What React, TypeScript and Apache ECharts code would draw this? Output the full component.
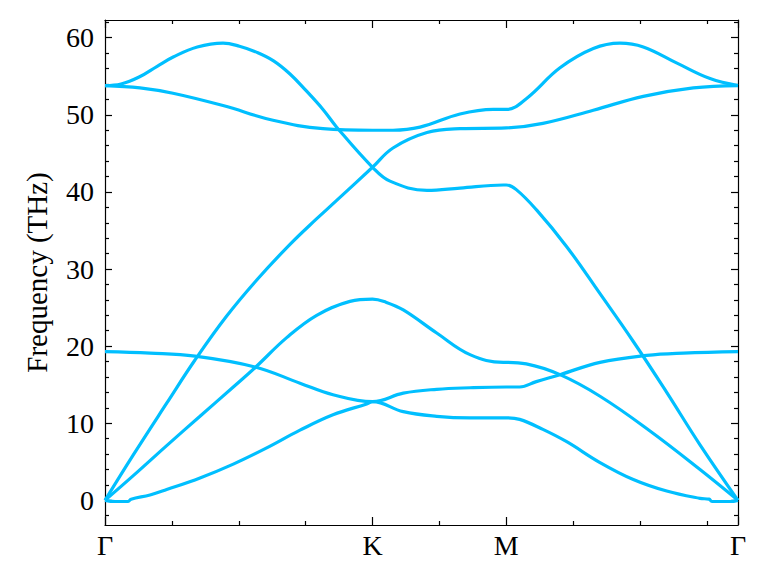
import React, { useEffect, useRef } from 'react';
import * as echarts from 'echarts';

// path distance along Γ-K-M-Γ: Γ=0, K=4/3, M=2, Γ=2+2/√3
const kPathPos = [0, 1.3333, 2, 3.1547];
const kPathLabels = ['Γ', 'K', 'M', 'Γ'];
const xMinorTicks = [0.3333, 0.6667, 1.0, 1.6667, 2.3333, 2.6667, 3.0];

const yMajorTicks = [0, 10, 20, 30, 40, 50, 60];
const yMinorTicks = [-2, 2, 4, 6, 8, 12, 14, 16, 18, 22, 24, 26, 28, 32, 34, 36, 38, 42, 44, 46, 48, 52, 54, 56, 58, 62];

// phonon branches, [path distance, frequency THz]
const bandZA = [
  [0, 0], [0.05, -0.15], [0.115, -0.15], [0.13, 0.15], [0.2243, 0.7], [0.3075, 1.4], [0.4734, 2.9],
  [0.6394, 4.7], [0.8059, 6.8], [0.9718, 9.1], [1.1363, 11.1], [1.3042, 12.5], [1.3333, 12.8],
  [1.4866, 11.5], [1.6531, 10.9], [1.819, 10.7], [2.0, 10.7], [2.0663, 10.5], [2.1824, 9.2],
  [2.301, 7.6], [2.467, 4.9], [2.6329, 2.7], [2.7994, 1.2], [2.9654, 0.25], [3.0103, 0.15],
  [3.0252, -0.15], [3.115, -0.15], [3.1547, 0],
];

const bandTA = [
  [0, 0], [0.141, 3.2], [0.3075, 7.1], [0.4734, 10.9], [0.6394, 14.7], [0.7476, 17.2], [0.9055, 21.1],
  [1.055, 24.0], [1.221, 25.8], [1.3333, 26.1], [1.40, 25.7], [1.4866, 24.7], [1.6531, 21.7],
  [1.819, 18.9], [1.985, 17.9], [2.0, 17.9], [2.0997, 17.7], [2.2676, 16.3], [2.467, 13.5],
  [2.7161, 9.0], [2.9654, 4.0], [3.1547, 0],
];

const bandLA = [
  [0, 0], [0.141, 5.9], [0.3075, 12.6], [0.4485, 18.2], [0.6065, 23.9], [0.764, 28.8], [0.922, 33.2],
  [1.05, 36.4], [1.1547, 38.9], [1.3333, 43.2], [1.4353, 45.7], [1.6047, 47.7], [1.7692, 48.2], [2.0, 48.3],
  [2.1824, 48.9], [2.4336, 50.6], [2.6827, 52.4], [2.932, 53.5], [3.1547, 53.8],
];

const bandZO = [
  [0, 19.3], [0.2243, 19.1], [0.4485, 18.7], [0.7476, 17.3], [0.9718, 15.2], [1.1363, 13.7],
  [1.3333, 12.8], [1.4866, 13.9], [1.6531, 14.4], [1.819, 14.6], [2.0, 14.7], [2.0663, 14.7],
  [2.1495, 15.4], [2.2676, 16.3], [2.467, 17.9], [2.6997, 18.8], [2.8821, 19.1], [3.1547, 19.3],
];

const bandTO = [
  [0, 53.8], [0.1744, 53.5], [0.3389, 52.8], [0.5881, 51.2], [0.8373, 49.3], [1.0864, 48.2],
  [1.3333, 48.0], [1.4353, 48.0], [1.57, 48.4], [1.7692, 50.1], [1.9352, 50.7], [2.0, 50.7],
  [2.0997, 52.1], [2.2676, 56.1], [2.4336, 58.6], [2.5666, 59.3], [2.6827, 58.8], [2.8507, 56.7],
  [3.0153, 54.7], [3.1547, 53.8],
];

const bandLO = [
  [0, 53.8], [0.08, 54.0], [0.17, 54.9], [0.26, 56.3], [0.34, 57.5], [0.46, 58.8], [0.5881, 59.3],
  [0.67, 58.9], [0.7575, 58.1], [0.84, 57.0], [0.922, 55.3], [1.0, 53.2], [1.0864, 50.7],
  [1.1547, 48.4], [1.3333, 43.2], [1.4204, 41.4], [1.6047, 40.2], [1.7692, 40.5], [1.985, 40.9],
  [2.0, 40.9], [2.0498, 40.3], [2.1495, 37.7], [2.301, 32.9], [2.467, 26.8], [2.6329, 20.6],
  [2.7994, 14.0], [2.9654, 7.2], [3.1547, 0],
];

const bands = [bandZA, bandTA, bandLA, bandZO, bandTO, bandLO];

const FONT = "'Liberation Serif', 'Times New Roman', serif";
const LINE_COLOR = '#00BFFF';
const FG = '#000000';

const X_MIN = 0;
const X_MAX = 3.1547;
const Y_MIN = -3.2;
const Y_MAX = 62.3;

const xAxisBase = (position: 'top' | 'bottom', ticks: number[], len: number, withLine: boolean, withLabel: boolean) => ({
  type: 'value' as const,
  position,
  min: X_MIN,
  max: X_MAX,
  axisLine: { show: withLine, onZero: false, lineStyle: { color: FG, width: 1.2 } },
  axisTick: { show: true, inside: true, length: len, customValues: ticks, lineStyle: { color: FG, width: 1.2 } },
  axisLabel: withLabel
    ? {
        show: true,
        customValues: kPathPos,
        margin: 6,
        color: FG,
        fontFamily: FONT,
        fontSize: 28,
        showMinLabel: true,
        showMaxLabel: true,
        hideOverlap: false,
        formatter: (v: number) => {
          const i = kPathPos.findIndex((p) => Math.abs(p - v) < 1e-3);
          return i >= 0 ? kPathLabels[i] : '';
        },
      }
    : { show: false },
  splitLine: { show: false },
});

const yAxisBase = (position: 'left' | 'right', ticks: number[], len: number, withLine: boolean, withLabel: boolean) => ({
  type: 'value' as const,
  position,
  min: Y_MIN,
  max: Y_MAX,
  axisLine: { show: withLine, onZero: false, lineStyle: { color: FG, width: 1.2 } },
  axisTick: { show: true, inside: true, length: len, customValues: ticks, lineStyle: { color: FG, width: 1.2 } },
  axisLabel: withLabel
    ? {
        show: true,
        customValues: yMajorTicks,
        margin: 11,
        color: FG,
        fontFamily: FONT,
        fontSize: 28,
        showMinLabel: true,
        showMaxLabel: true,
      }
    : { show: false },
  splitLine: { show: false },
});

const App = (): JSX.Element => {
  const divEL = useRef(null);

  useEffect(() => {
    document.body.style.margin = '0';
    const instance = echarts.init(divEL.current as any, null, { renderer: 'svg' });

    const yName = {
      ...yAxisBase('left', yMajorTicks, 7, true, true),
      name: 'Frequency (THz)',
      nameLocation: 'middle' as const,
      nameGap: 54,
      nameTextStyle: { color: FG, fontFamily: FONT, fontSize: 29 },
    };

    const option: echarts.EChartsOption = {
      animation: false,
      backgroundColor: '#ffffff',
      textStyle: { fontFamily: FONT },
      grid: { left: 105, right: 29, top: 20, bottom: 57, containLabel: false },
      xAxis: [
        xAxisBase('bottom', kPathPos, 8, true, true),
        xAxisBase('bottom', xMinorTicks, 4, false, false),
        xAxisBase('top', kPathPos, 8, true, false),
        xAxisBase('top', xMinorTicks, 4, false, false),
      ] as any,
      yAxis: [
        yName,
        yAxisBase('left', yMinorTicks, 4, false, false),
        yAxisBase('right', yMajorTicks, 7, true, false),
        yAxisBase('right', yMinorTicks, 4, false, false),
      ] as any,
      series: bands.map((b) => ({
        type: 'line',
        xAxisIndex: 0,
        yAxisIndex: 0,
        data: b,
        showSymbol: false,
        symbol: 'none',
        smooth: 0.4,
        lineStyle: { color: LINE_COLOR, width: 3.2 },
        z: 1,
      })),
    };

    instance.setOption(option);

    return () => {
      instance.dispose();
    };
  }, []);

  return <div ref={divEL} style={{ width: 767, height: 582 }}></div>;
};

export default App;
